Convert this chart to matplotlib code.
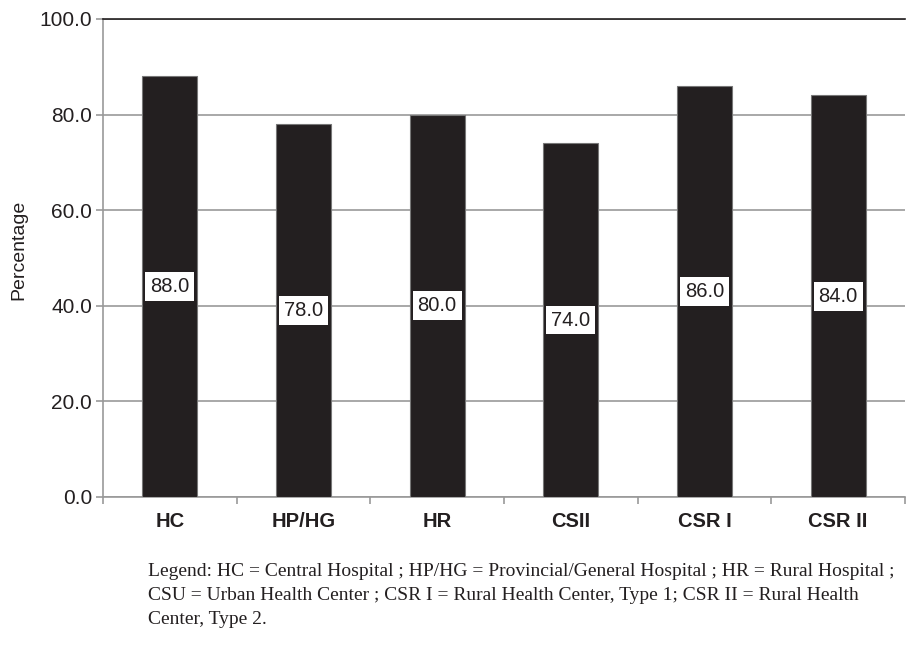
import matplotlib.pyplot as plt
import numpy as np

categories = ["HC", "HP/HG", "HR", "CSII", "CSR I", "CSR II"]
values = [88.0, 78.0, 80.0, 74.0, 86.0, 84.0]
yticks = [0.0, 20.0, 40.0, 60.0, 80.0, 100.0]
legend_lines = [
    "Legend: HC = Central Hospital ; HP/HG = Provincial/General Hospital ; HR = Rural Hospital ;",
    "CSU = Urban Health Center ; CSR I = Rural Health Center, Type 1; CSR II = Rural Health",
    "Center, Type 2.",
]

plt.rcParams["font.family"] = ["Liberation Sans", "DejaVu Sans"]

fig = plt.figure(figsize=(9.07, 6.45), dpi=100)
ax = fig.add_axes([103 / 907, 1 - 497 / 645, 802 / 907, 478 / 645])

x = np.arange(len(categories))
ax.bar(x, values, width=0.41, color="#231f20", edgecolor="#777777",
       linewidth=0.8, zorder=3)

for xi, v in zip(x, values):
    ax.text(xi, v / 2, f"{v:.1f}", ha="center", va="center", fontsize=14.5,
            color="#231f20", zorder=4,
            bbox=dict(facecolor="white", edgecolor="none", pad=3.5))

ax.set_xlim(-0.5, len(categories) - 0.5)
ax.set_ylim(0, 100)
ax.set_yticks(yticks)
ax.set_yticklabels([f"{t:.1f}" for t in yticks], fontsize=15, color="#231f20")
ax.yaxis.grid(True, color="#999999", linewidth=1.2, zorder=0)
ax.set_axisbelow(True)

ax.set_xticks(x)
ax.set_xticklabels(categories, fontsize=14.5, fontweight="bold", color="#231f20")
ax.tick_params(axis="x", length=0, pad=11)
ax.set_xticks(np.arange(len(categories) + 1) - 0.5, minor=True)
ax.tick_params(axis="x", which="minor", length=5, color="#999999", width=1.2)
ax.tick_params(axis="y", length=5, color="#999999", width=1.2, pad=3)

for s in ["left", "bottom"]:
    ax.spines[s].set_color("#999999")
    ax.spines[s].set_linewidth(1.2)
ax.spines["right"].set_visible(False)
ax.spines["top"].set_color("#231f20")
ax.spines["top"].set_linewidth(1.2)

ax.set_ylabel("Percentage", fontsize=14, color="#231f20")
ax.yaxis.set_label_coords(-76 / 802, 0.517)

for i, line in enumerate(legend_lines):
    fig.text(148 / 907, 1 - (571 + 24 * i) / 645, line, fontsize=14,
             family=["Liberation Serif", "DejaVu Serif"], color="#231f20",
             va="center", ha="left")

fig.savefig("out.png", dpi=100)
